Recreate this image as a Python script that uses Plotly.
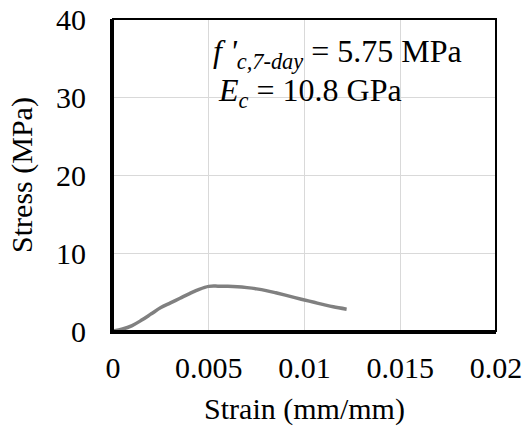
import plotly.graph_objects as go

strain = [0, 0.0005, 0.001, 0.0015, 0.002, 0.0025, 0.003, 0.0035, 0.004, 0.0045,
          0.005, 0.0055, 0.006, 0.0065, 0.007, 0.0075, 0.008, 0.0085, 0.009, 0.0095,
          0.01, 0.0105, 0.011, 0.0115, 0.0122]
stress = [0, 0.25, 0.7, 1.4, 2.2, 3.0, 3.6, 4.2, 4.8, 5.35,
          5.72, 5.75, 5.74, 5.68, 5.56, 5.4, 5.18, 4.9, 4.6, 4.28,
          3.98, 3.68, 3.38, 3.1, 2.8]

x_ticks = [0, 0.005, 0.01, 0.015, 0.02]
x_ticklabels = ["0", "0.005", "0.01", "0.015", "0.02"]
y_ticks = [0, 10, 20, 30, 40]

FONT = "Liberation Serif"

fig = go.Figure()
fig.add_trace(go.Scatter(x=strain, y=stress, mode="lines",
                         line=dict(color="#808080", width=3.5, shape="spline"),
                         showlegend=False, hoverinfo="skip"))

fig.update_layout(
    width=531, height=436,
    margin=dict(l=113, r=35, t=19, b=105, autoexpand=False),
    paper_bgcolor="white", plot_bgcolor="white",
    font=dict(family=FONT, size=30, color="black"),
    xaxis=dict(range=[0, 0.02], tickvals=x_ticks, ticktext=x_ticklabels,
               showgrid=True, gridcolor="#d9d9d9", gridwidth=1,
               showline=True, linecolor="black", linewidth=3,
               ticks="outside", ticklen=8, tickcolor="rgba(0,0,0,0)",
               zeroline=False, automargin=False,
               title=dict(text="Strain (mm/mm)",
                          font=dict(family=FONT, size=30))),
    yaxis=dict(range=[0, 40], tickvals=y_ticks,
               showgrid=True, gridcolor="#d9d9d9", gridwidth=1,
               showline=True, linecolor="black", linewidth=3,
               ticks="outside", ticklen=18, tickcolor="rgba(0,0,0,0)",
               zeroline=False, automargin=False,
               title=dict(text="Stress (MPa)",
                          font=dict(family=FONT, size=30))),
)

# outer box (top/right)
fig.add_shape(type="rect", xref="paper", yref="paper", x0=0, x1=1, y0=0, y1=1,
              line=dict(color="black", width=2), layer="above")
# white text box covering gridlines
fig.add_shape(type="rect", xref="paper", yref="paper", x0=0.227, x1=0.859,
              y0=0.673, y1=0.987, line=dict(width=0), fillcolor="white",
              layer="between")

fig.add_annotation(xref="paper", yref="paper", x=0.255, y=0.89,
                   xanchor="left", yanchor="middle", showarrow=False,
                   text="<i>f '<sub>c,7-day</sub></i> = 5.75 MPa",
                   font=dict(family=FONT, size=32, color="black"))
fig.add_annotation(xref="paper", yref="paper", x=0.268, y=0.765,
                   xanchor="left", yanchor="middle", showarrow=False,
                   text="<i>E<sub>c</sub></i> = 10.8 GPa",
                   font=dict(family=FONT, size=32, color="black"))

fig.write_html("out.html", config={"displayModeBar": False},
               post_script="document.body.style.margin='0';document.body.style.padding='0';")
